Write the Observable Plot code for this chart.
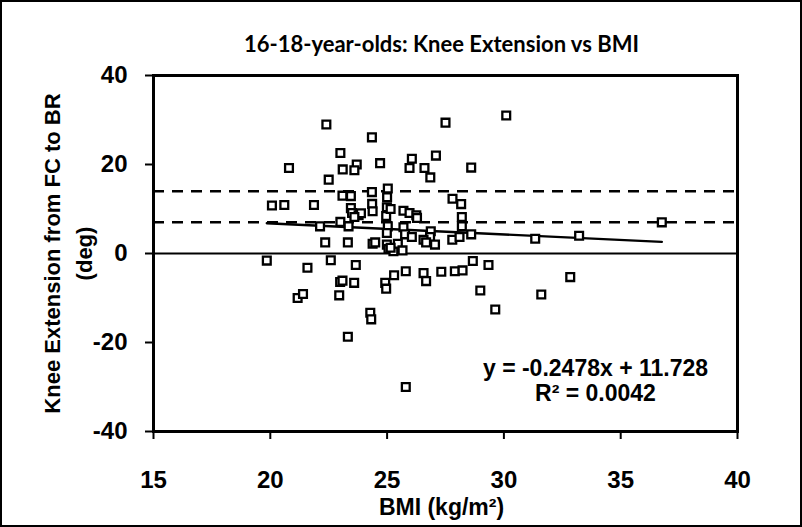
<!DOCTYPE html>
<html>
<head>
<meta charset="utf-8">
<script src="https://cdn.jsdelivr.net/npm/d3@7"></script>
<script src="https://cdn.jsdelivr.net/npm/@observablehq/plot@0.6"></script>
<style>
  html, body { margin: 0; padding: 0; background: #fff; }
  #wrap { position: relative; width: 802px; height: 527px; }
  #wrap .border { position: absolute; left: 0; top: 0; width: 802px; height: 527px;
    box-sizing: border-box; border: 2px solid #000; pointer-events: none; }
</style>
</head>
<body>
<div id="wrap"><div class="border"></div></div>
<script>
// BMI (kg/m²) and knee extension change from FC to BR (deg), 16-18-year-olds
const bmi = [
  22.4, 24.35, 30.1, 27.5, 23.0, 20.8, 23.1, 23.7, 23.6, 24.7,
  26.06, 25.96, 26.6, 26.85, 27.09, 28.6, 22.5, 20.07, 20.6, 21.87,
  23.09, 23.45, 24.35, 25.03, 25.0, 24.36, 24.38, 24.99, 24.96, 23.45,
  23.5, 23.78, 23.88, 23.6, 25.7, 25.96, 26.25, 26.28, 23.0, 22.13,
  23.35, 25.03, 24.99, 25.7, 25.77, 26.87, 26.84, 26.06, 22.35, 23.32,
  24.38, 24.49, 24.99, 25.06, 25.27, 25.46, 25.66, 26.56, 26.67, 27.05,
  27.8, 28.17, 28.2, 28.2, 27.79, 28.1, 28.6, 31.34, 33.22, 36.76,
  27.32, 27.9, 28.23, 28.67, 29.34, 28.99, 31.6, 29.63, 32.84, 19.85,
  21.59, 22.59, 23.66, 22.99, 23.09, 23.59, 22.95, 21.17, 21.4, 24.28,
  24.32, 23.32, 25.8, 24.92, 24.96, 25.3, 25.8, 26.56, 26.67, 25.15,
  25.15
];
const kneeExt = [
  29.0, 26.1, 31.0, 29.4, 22.6, 19.2, 18.9, 20.0, 18.7, 20.3,
  21.3, 19.2, 19.2, 17.1, 22.0, 19.3, 16.6, 10.8, 10.9, 10.9,
  13.0, 12.9, 13.8, 14.6, 12.65, 11.15, 9.5, 10.4, 8.4, 10.2,
  9.1, 8.6, 9.05, 8.2, 9.6, 9.1, 8.6, 8.0, 7.1, 6.1,
  6.1, 6.1, 4.6, 5.9, 4.3, 5.0, 3.7, 3.7, 2.5, 2.5,
  2.2, 2.5, 2.0, 1.0, 0.5, 2.2, 0.7, 3.1, 2.5, 2.0,
  12.3, 11.1, 8.2, 6.1, 3.1, 3.7, 4.3, 3.3, 4.0, 7.0,
  -4.1, -4.0, -3.8, -1.7, -2.6, -8.3, -9.2, -12.6, -5.3, -1.6,
  -3.2, -1.5, -2.6, -6.4, -6.1, -6.6, -9.4, -10.0, -9.1, -13.3,
  -14.8, -18.7, -30.0, -6.6, -7.9, -4.9, -4.0, -4.4, -6.2, 1.3,
  10.0
];

// Reference lines (deg)
const zeroLine = [0];
const dashedLines = [14, 7];

// Linear fit reported on the chart
const slope = -0.2478;
const intercept = 11.728;
const rSquared = 0.0042;

const xTicks = [15, 20, 25, 30, 35, 40];
const yTicks = [-40, -20, 0, 20, 40];

const titleText = "16-18-year-olds: Knee Extension vs BMI";
const xTitle = "BMI (kg/m\u00B2)";
const yTitle1 = "Knee Extension from FC to BR";
const yTitle2 = "(deg)";

const points = bmi.map((b, i) => ({bmi: b, ext: kneeExt[i]}));
const [xMin, xMax] = d3.extent(bmi);
const fit = [xMin, xMax].map(x => ({bmi: x, ext: slope * x + intercept}));

const fmt = d3.format(".4f");
const eqText = `y = ${slope}x + ${intercept}`;
const r2Text = `R\u00B2 = ${fmt(rSquared)}`;
// plain hyphen for negative tick labels
const tickFmt = d => `${d}`;

const sans = "Liberation Sans, Arial, sans-serif";

const chart = Plot.plot({
  width: 802,
  height: 527,
  marginLeft: 153,
  marginRight: 65,
  marginTop: 75,
  marginBottom: 96,
  style: {background: "#fff", color: "#000", fontFamily: sans, fontWeight: "bold", fontSize: "23px"},
  x: {domain: [15, 40], ticks: xTicks},
  y: {domain: [-40, 40], ticks: yTicks},
  marks: [
    Plot.ruleY(dashedLines, {stroke: "#000", strokeWidth: 2.5, strokeDasharray: "11,8"}),
    Plot.ruleY(zeroLine, {stroke: "#000", strokeWidth: 2}),
    Plot.line(fit, {x: "bmi", y: "ext", stroke: "#000", strokeWidth: 2.4}),
    Plot.dot(points, {x: "bmi", y: "ext", symbol: "square", r: 4.4, fill: "#fff", stroke: "#000", strokeWidth: 2.3}),
    Plot.frame({stroke: "#000", strokeWidth: 3}),
    Plot.axisX({ticks: xTicks, tickFormat: tickFmt, tickSize: 8, tickPadding: 31, strokeWidth: 2, label: null, fontSize: 24}),
    Plot.axisY({ticks: yTicks, tickFormat: tickFmt, tickSize: 8, tickPadding: 18, strokeWidth: 2, label: null, fontSize: 24}),
    Plot.text([titleText], {frameAnchor: "top", lineAnchor: "middle", dx: -4, dy: -31, fontFamily: "Lato, Calibri, sans-serif", fontWeight: "bold", fontSize: 22}),
    Plot.text([xTitle], {frameAnchor: "bottom", lineAnchor: "middle", dx: -4, dy: 76, fontSize: 23}),
    Plot.text([yTitle1], {frameAnchor: "left", textAnchor: "middle", rotate: -90, dx: -101, fontSize: 22}),
    Plot.text([yTitle2], {frameAnchor: "left", textAnchor: "middle", rotate: -90, dx: -69, fontSize: 22}),
    Plot.text([eqText], {frameAnchor: "bottom-right", textAnchor: "middle", dx: -142, dy: -56, fontSize: 23}),
    Plot.text([r2Text], {frameAnchor: "bottom-right", textAnchor: "middle", dx: -142, dy: -31, fontSize: 23})
  ]
});

document.getElementById("wrap").prepend(chart);
</script>
</body>
</html>
